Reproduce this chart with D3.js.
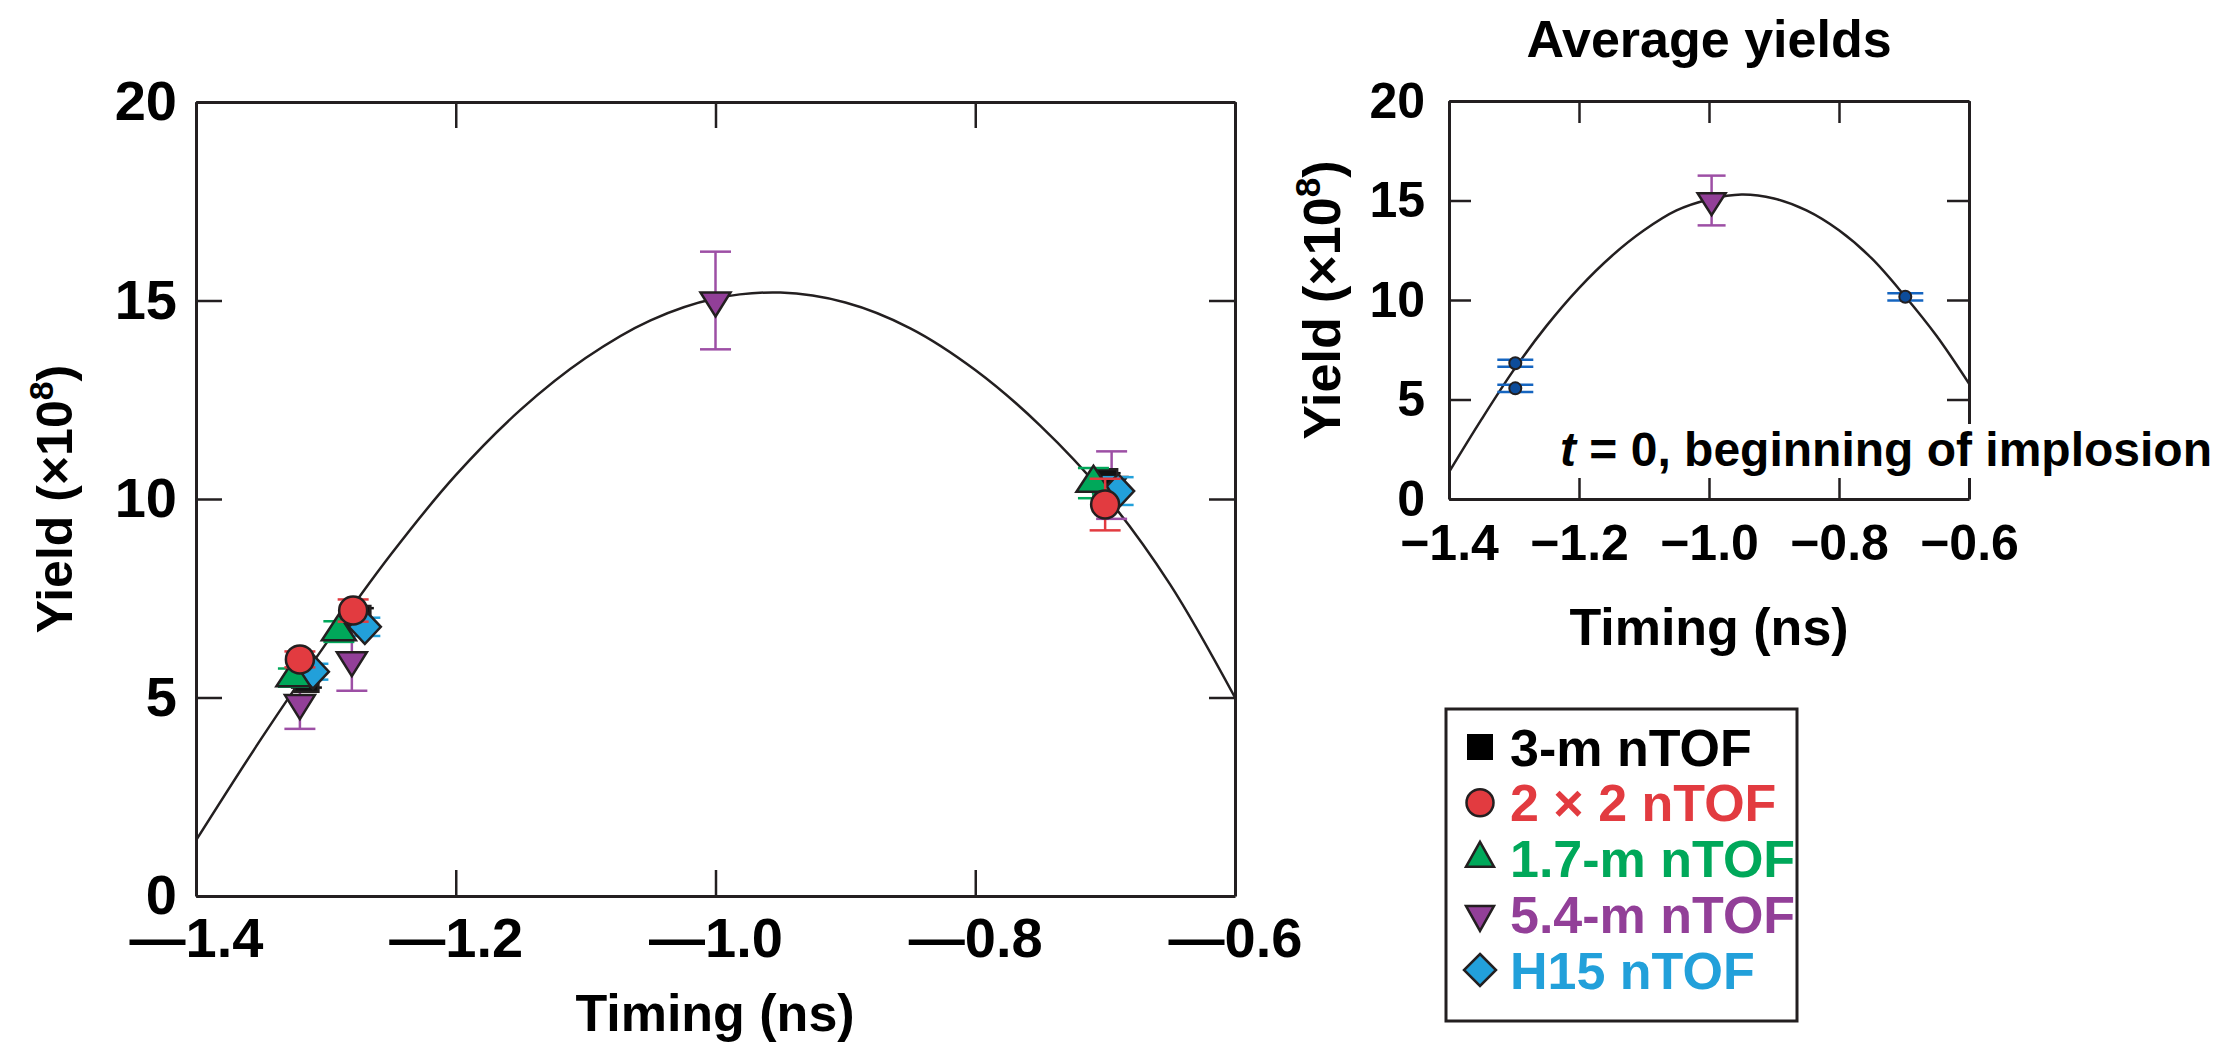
<!DOCTYPE html>
<html>
<head>
<meta charset="utf-8">
<script src="https://cdn.jsdelivr.net/npm/d3@7"></script>
<style>
  body { margin: 0; background: #fff; }
  svg { display: block; font-family: "Liberation Sans", Arial, sans-serif; font-weight: bold; }
</style>
</head>
<body>
<div id="chart"></div>
<script>
// values
const xTicks = [-1.4, -1.2, -1.0, -0.8, -0.6];
const yTicks = [0, 5, 10, 15, 20];

// [timing (ns), yield (x1e8), error]
const tof3m  = [[-1.315, 5.45, 0.2], [-1.275, 7.0, 0.25], [-0.70, 10.45, 0.2]];
const tof2x2 = [[-1.32, 5.96, 0.2], [-1.279, 7.19, 0.28], [-0.70, 9.86, 0.65]];
const tof17m = [[-1.325, 5.5, 0.23], [-1.29, 6.66, 0.26], [-0.709, 10.4, 0.38]];
const tof54m = [[-1.32, 4.86, 0.65], [-1.28, 5.94, 0.77], [-1.0, 15.0, 1.23], [-0.695, 10.35, 0.85]];
const tofH15 = [[-1.31, 5.65, 0.2], [-1.27, 6.78, 0.23], [-0.69, 10.2, 0.35]];

const fitMain = [[-1.40, 1.4], [-1.35, 3.95], [-1.30, 6.35], [-1.25, 8.6], [-1.20, 10.6],
  [-1.15, 12.25], [-1.10, 13.55], [-1.05, 14.5], [-1.00, 15.05], [-0.95, 15.2], [-0.90, 14.95],
  [-0.85, 14.3], [-0.80, 13.25], [-0.75, 11.85], [-0.70, 10.1], [-0.65, 7.85], [-0.60, 5.0]];

const avgYields = [[-1.298, 5.56, 0.18], [-1.298, 6.82, 0.18], [-0.698, 10.16, 0.18]];
const avgPeak = [[-0.996, 15.0, 1.25]];
const fitAvg = [[-1.40, 1.35], [-1.35, 4.0], [-1.30, 6.5], [-1.25, 8.7], [-1.20, 10.6],
  [-1.15, 12.2], [-1.10, 13.5], [-1.05, 14.5], [-1.00, 15.05], [-0.95, 15.3], [-0.90, 15.1],
  [-0.85, 14.5], [-0.80, 13.5], [-0.75, 12.1], [-0.70, 10.25], [-0.65, 8.2], [-0.60, 5.8]];

const legendLabels = ["3-m nTOF", "2 \u00d7 2 nTOF", "1.7-m nTOF", "5.4-m nTOF", "H15 nTOF"];

const ink = "#231f20";
const series = [
  { name: legendLabels[3], data: tof54m, color: "#923f98", err: "#9d4fa5", shape: "triDown" },
  { name: legendLabels[0], data: tof3m,  color: "#111111", err: "#111111", shape: "square" },
  { name: legendLabels[4], data: tofH15, color: "#22a0da", err: "#22a0da", shape: "diamond" },
  { name: legendLabels[2], data: tof17m, color: "#00a85a", err: "#00a85a", shape: "triUp" },
  { name: legendLabels[1], data: tof2x2, color: "#e23b40", err: "#e23b40", shape: "circle" }
];

function shapePath(shape, w, h) {
  if (shape === "square") return `M${-w/2},${-w/2}h${w}v${w}h${-w}Z`;
  if (shape === "circle") return d3.symbol(d3.symbolCircle, Math.PI * (w/2) * (w/2))();
  if (shape === "triUp") return `M0,${-2*h/3}L${w/2},${h/3}L${-w/2},${h/3}Z`;
  if (shape === "triDown") return `M0,${2*h/3}L${w/2},${-h/3}L${-w/2},${-h/3}Z`;
  return `M0,${-h/2}L${w/2},0L0,${h/2}L${-w/2},0Z`;
}
const mainSize = { square: [24, 24], circle: [28, 28], triUp: [34, 26], triDown: [30, 24], diamond: [32, 34] };

const svg = d3.select("#chart").append("svg")
  .attr("width", 2219).attr("height", 1044);

function drawFrame(x, y, tickLen, fontSize, padX, padY, xFmt) {
  const [l, r] = x.range(), [b, t] = y.range();
  const g = svg.append("g");
  g.append("g").call(d3.axisLeft(y).tickValues(yTicks).tickSize(-tickLen).tickSizeOuter(0)
      .tickPadding(padY).tickFormat(d3.format("d")))
    .attr("transform", `translate(${l},0)`);
  g.append("g").call(d3.axisRight(y).tickValues(yTicks).tickSize(-tickLen).tickSizeOuter(0).tickFormat(""))
    .attr("transform", `translate(${r},0)`);
  g.append("g").call(d3.axisBottom(x).tickValues(xTicks).tickSize(-tickLen).tickSizeOuter(0)
      .tickPadding(padX).tickFormat(xFmt))
    .attr("transform", `translate(0,${b})`);
  g.append("g").call(d3.axisTop(x).tickValues(xTicks).tickSize(-tickLen).tickSizeOuter(0).tickFormat(""))
    .attr("transform", `translate(0,${t})`);
  g.selectAll(".domain").attr("stroke", ink).attr("stroke-width", 3);
  g.selectAll(".tick line").attr("stroke", ink).attr("stroke-width", 2.5);
  g.selectAll("text").attr("font-family", null).attr("font-size", fontSize).attr("fill", "#000");
  return g;
}

function yTitle(tx, ty, size) {
  const t = svg.append("text").attr("transform", `translate(${tx},${ty}) rotate(-90)`)
    .attr("text-anchor", "middle").attr("font-size", size);
  t.append("tspan").text("Yield (\u00d710");
  t.append("tspan").attr("font-size", size * 0.68).attr("dy", -size * 0.38).text("8");
  t.append("tspan").attr("dy", size * 0.38).text(")");
}

function drawErr(g, x, y, rows, color, cap) {
  rows.forEach(d => {
    g.append("line").attr("x1", x(d[0])).attr("x2", x(d[0]))
      .attr("y1", y(d[1] - d[2])).attr("y2", y(d[1] + d[2]))
      .attr("stroke", color).attr("stroke-width", 2.5);
    [d[1] - d[2], d[1] + d[2]].forEach(v => {
      g.append("line").attr("x1", x(d[0]) - cap / 2).attr("x2", x(d[0]) + cap / 2)
        .attr("y1", y(v)).attr("y2", y(v))
        .attr("stroke", color).attr("stroke-width", 2.5);
    });
  });
}

// ---- main chart ----
const x = d3.scaleLinear().domain([-1.4, -0.6]).range([196, 1235]);
const y = d3.scaleLinear().domain([0, 20]).range([896, 102]);

// long dash for the minus sign, like the original
const longMinus = v => d3.format(".1f")(v).replace("\u2212", "\u2014");
drawFrame(x, y, 26, 56, 21, 19, longMinus);

svg.append("path").datum(fitMain)
  .attr("d", d3.line().x(d => x(d[0])).y(d => y(d[1])).curve(d3.curveCatmullRom))
  .attr("fill", "none").attr("stroke", ink).attr("stroke-width", 2.5);

series.forEach(s => {
  const g = svg.append("g");
  drawErr(g, x, y, s.data, s.err, 31);
  const [w, h] = mainSize[s.shape];
  g.selectAll("path").data(s.data).join("path")
    .attr("transform", d => `translate(${x(d[0])},${y(d[1])})`)
    .attr("d", shapePath(s.shape, w, h))
    .attr("fill", s.color).attr("stroke", ink).attr("stroke-width", 2.5)
    .attr("stroke-linejoin", "miter");
});

svg.append("text").attr("x", 715).attr("y", 1031).attr("text-anchor", "middle")
  .attr("font-size", 52).text("Timing (ns)");
yTitle(72, 499, 50);

// ---- inset: average yields ----
const xi = d3.scaleLinear().domain([-1.4, -0.6]).range([1449, 1969]);
const yi = d3.scaleLinear().domain([0, 20]).range([499, 101]);

drawFrame(xi, yi, 22, 50, 25, 24, d3.format(".1f"));

svg.append("path").datum(fitAvg)
  .attr("d", d3.line().x(d => xi(d[0])).y(d => yi(d[1])).curve(d3.curveCatmullRom))
  .attr("fill", "none").attr("stroke", ink).attr("stroke-width", 2.5);

const gi = svg.append("g");
drawErr(gi, xi, yi, avgPeak, "#9d4fa5", 28);
gi.selectAll("path.peak").data(avgPeak).join("path").attr("class", "peak")
  .attr("transform", d => `translate(${xi(d[0])},${yi(d[1])})`)
  .attr("d", shapePath("triDown", 28, 22))
  .attr("fill", "#923f98").attr("stroke", ink).attr("stroke-width", 2.5);
drawErr(gi, xi, yi, avgYields, "#1565c0", 36);
gi.selectAll("circle").data(avgYields).join("circle")
  .attr("cx", d => xi(d[0])).attr("cy", d => yi(d[1])).attr("r", 6)
  .attr("fill", "#0d4c9a").attr("stroke", ink).attr("stroke-width", 2);

svg.append("rect").attr("x", 1548).attr("y", 424).attr("width", 671).attr("height", 54).attr("fill", "#fff");
const note = svg.append("text").attr("x", 2212).attr("y", 466).attr("text-anchor", "end").attr("font-size", 48);
note.append("tspan").attr("font-style", "italic").text("t");
note.append("tspan").text(" = 0, beginning of implosion");

svg.append("text").attr("x", 1709).attr("y", 57).attr("text-anchor", "middle")
  .attr("font-size", 52).text("Average yields");
svg.append("text").attr("x", 1709).attr("y", 645).attr("text-anchor", "middle")
  .attr("font-size", 52).text("Timing (ns)");
yTitle(1340, 300, 52);

// ---- legend ----
const legendOrder = [
  { label: legendLabels[0], color: "#000000", shape: "square", w: 26, h: 26 },
  { label: legendLabels[1], color: "#e23b40", shape: "circle", w: 27, h: 27 },
  { label: legendLabels[2], color: "#00a85a", shape: "triUp", w: 28, h: 25 },
  { label: legendLabels[3], color: "#923f98", shape: "triDown", w: 28, h: 25 },
  { label: legendLabels[4], color: "#22a0da", shape: "diamond", w: 32, h: 32 }
];
const lg = svg.append("g");
lg.append("rect").attr("x", 1446).attr("y", 709).attr("width", 351).attr("height", 312)
  .attr("fill", "none").attr("stroke", ink).attr("stroke-width", 3);
const rowY = d3.scaleLinear().domain([0, 4]).range([747, 970]);
legendOrder.forEach((d, i) => {
  lg.append("path").attr("transform", `translate(1480,${rowY(i)})`)
    .attr("d", shapePath(d.shape, d.w, d.h))
    .attr("fill", d.color).attr("stroke", ink).attr("stroke-width", d.shape === "square" ? 0 : 2.5);
  lg.append("text").attr("x", 1510).attr("y", rowY(i)).attr("dy", "0.36em")
    .attr("font-size", 52).attr("fill", d.color).text(d.label);
});
</script>
</body>
</html>
